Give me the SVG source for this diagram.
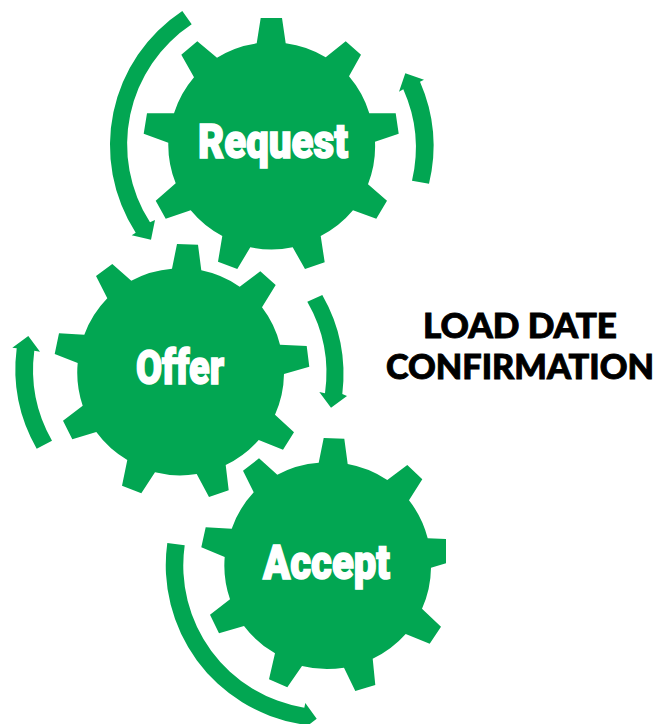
<svg xmlns="http://www.w3.org/2000/svg" width="669" height="724" viewBox="0 0 669 724">
<style>
.g{fill:#02a652}
.a{fill:#02a652}
.l{font-family:"Roboto","Liberation Sans",Arial,sans-serif;font-weight:900;font-size:49px;fill:#fff;stroke:#fff;stroke-width:1.6;text-anchor:start}
.t{font-family:"Lato","Open Sans",sans-serif;font-weight:900;font-size:33.5px;fill:#000;stroke:#000;stroke-width:0.9;text-anchor:start}
</style>
<rect width="669" height="724" fill="#fff"/>
<g id="connectors">
<path id="arrow-request-left" class="a" d="M182.3 11L191.7 24.3A144 144 0 0 0 150 222.3L155 220L151 239.7L131.7 235.3L135.7 232.7A161 161 0 0 1 182.3 11Z"/>
<path id="arrow-request-right" class="a" d="M412 180.7L429 183.7A161 161 0 0 0 420 81.7L424 79.7L405.3 73.3L399 91.7L403.3 89.3A144 144 0 0 1 412 180.7Z"/>
<path id="arrow-offer-right" class="a" d="M307.3 301.7L322.3 295A161 161 0 0 1 342.3 394L347 396L331 407.7L319.3 392L325 393.3A144 144 0 0 0 307.3 301.7Z"/>
<path id="arrow-offer-left" class="a" d="M36.7 448.7L52 440.7A144 144 0 0 1 34.3 350.7L40 351.7L28.3 336L12.3 347.7L16.7 348.3A161 161 0 0 0 36.7 448.7Z"/>
<path id="arrow-accept" class="a" d="M167.3 543L184.7 545.3A144 144 0 0 0 304.3 707.7L305.3 703L316.7 718.7L306 727L300 724A161 161 0 0 1 167.3 543Z"/>
</g>
<g id="node-request">
<path class="g" d="M260.7 18L282 18L285.7 43.3A103 103 0 0 1 325.7 57.3L345.7 41.3L361 54.7L349 76.3A103 103 0 0 1 369.3 113.3L395.7 113.3L398.7 133.7L375 141.7A103 103 0 0 1 368 184.3L387 200.7L376.3 218.7L353 210.3A103 103 0 0 1 320.7 236L324.7 262.3L305 269L292.7 247.3A103 103 0 0 1 250.3 247.3L237.3 269L218 261.7L222.3 236A103 103 0 0 1 190.7 210.3L165.7 218.7L155.7 200.7L175.7 183.3A103 103 0 0 1 168.3 142.7L143.7 133.7L147 113.3L174 113.3A103 103 0 0 1 194 77.3L181.3 54.7L197.3 41.3L217 57.7A103 103 0 0 1 256.7 43.3Z"/>
<text class="l" x="198" y="158" textLength="150" lengthAdjust="spacingAndGlyphs">Request</text>
</g>
<g id="node-offer">
<path class="g" d="M177 244L198 244.7L201.3 270.3A103 103 0 0 1 239.7 286.7L260.3 271.3L275.7 285L262 307.3A103 103 0 0 1 280 344.7L306.7 346L309.3 366.7L284 374A103 103 0 0 1 275 414.7L294 432.3L283 449.7L258.7 440A103 103 0 0 1 225.7 465L228.7 490.3L209 497L196.7 474A103 103 0 0 1 155 472.3L141.3 493.3L122 485.7L127.3 460A103 103 0 0 1 96.3 432L72.3 439.3L63 420.7L82.7 405.7A103 103 0 0 1 77.7 363L54.7 354L59 333.3L84.3 334.7A103 103 0 0 1 107.3 298.3L96 276L112.3 264L131.3 280.7A103 103 0 0 1 172 268.7Z"/>
<text class="l" x="136" y="384" textLength="88" lengthAdjust="spacingAndGlyphs">Offer</text>
</g>
<g id="node-accept">
<path class="g" d="M323.7 438L344.3 438.7L347.7 464A103 103 0 0 1 387.3 480L407.3 465L422.3 479.3L409 500.3A103 103 0 0 1 427.7 538.3L446 539L446 563.3L431 567.7A103 103 0 0 1 422 608.7L441 626.7L429.7 643.7L405.7 634A103 103 0 0 1 372.7 658.7L375.3 685L355.3 691L344 667.7A103 103 0 0 1 302 666L287.3 687.3L269 679.3L275 653.3A103 103 0 0 1 244 626L219 633.3L210 614.7L230 599.3A103 103 0 0 1 224.7 557L201.3 547.3L205.7 527.3L231.7 528.7A103 103 0 0 1 253.7 492.3L243 470.7L259 458.3L277.3 474.7A103 103 0 0 1 318.7 462.7Z"/>
<text class="l" x="263" y="578.5" textLength="127" lengthAdjust="spacingAndGlyphs">Accept</text>
</g>
<g id="title">
<text class="t" x="423" y="338" textLength="194" lengthAdjust="spacingAndGlyphs">LOAD DATE</text>
<text class="t" x="386" y="379" textLength="268" lengthAdjust="spacingAndGlyphs">CONFIRMATION</text>
</g>
</svg>
